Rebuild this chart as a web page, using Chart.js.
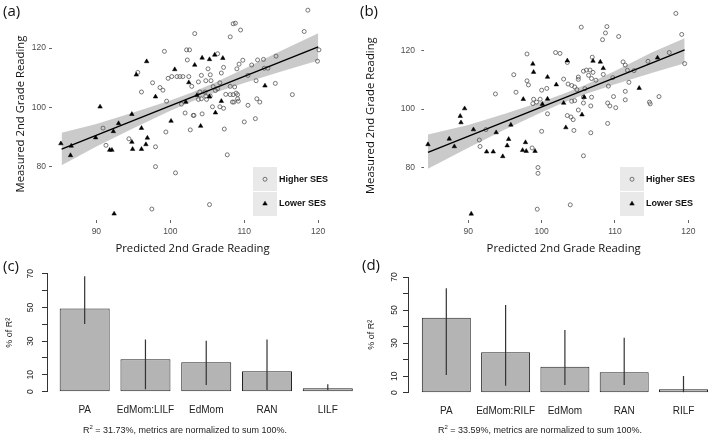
<!DOCTYPE html>
<html>
<head>
<meta charset="utf-8">
<script src="https://cdn.jsdelivr.net/npm/chart.js@4.4.1/dist/chart.umd.min.js"></script>
<style>
  body { margin: 0; background: #fff; width: 709px; height: 437px; position: relative; overflow: hidden; }
  canvas { position: absolute; }
  .tag { position: absolute; font-family: 'Open Sans', sans-serif; font-size: 15px; line-height: 15px; color: #111; z-index: 2; }
  .caption { position: absolute; width: 300px; text-align: center; font-family: 'Liberation Sans', Arial, sans-serif; font-size: 9px; line-height: 11px; color: #222; z-index: 2; }
  .caption sup { font-size: 6px; line-height: 0; }
</style>
</head>
<body>
<div class="tag" style="left:3px;top:3px">(a)</div>
<div class="tag" style="left:360px;top:3px">(b)</div>
<div class="tag" style="left:3px;top:258px">(c)</div>
<div class="tag" style="left:362px;top:257px">(d)</div>
<canvas id="chartA" width="340" height="260" style="left:0;top:0"></canvas>
<canvas id="chartB" width="354" height="260" style="left:355px;top:0"></canvas>
<canvas id="chartC" width="360" height="175" style="left:0;top:262px"></canvas>
<canvas id="chartD" width="354" height="175" style="left:355px;top:262px"></canvas>
<div class="caption" id="capC" style="left:35px;top:425px"></div>
<div class="caption" id="capD" style="left:390px;top:425px"></div>
<script>
// --- panel (a) ---
const aHigherX = [118.6,118.1,120.1,119.9,108.5,108.8,109.5,108.1,103.3,99.2,102.2,102.6,106.4,102.3,95.6,97.6,99.7,100.2,100.9,101.3,101.7,102.5,96.1,98.6,99,99.5,101.5,102.9,103.8,104.2,105.1,105.4,105.8,106.7,106.9,107.2,109,109.3,109.8,111,111.8,112.6,114.3,112.7,113.2,110.5,111.6,114.2,116.5,108.1,108.5,109.1,109.1,108.6,109.2,110.5,111.7,112.1,111.5,110,107.3,106.7,107.2,105.7,104.3,103.2,102,102.7,99.4,104,104.8,103.8,104.9,106.1,106.4,104.7,104.2,105.4,108.1,108.7,104.8,105.5,103.1,107.5,108.9,108.4,90.9,91.3,94.4,98,98,100.7,107.7,105.3,97.5];
const aHigherY = [132.8,125.6,119.4,115.6,128.2,128.4,126.1,123.8,124.9,118.9,119.4,119.4,118.1,116,111.8,108.3,109.8,110.4,110.4,110.4,110.4,110.4,105.2,106.7,105.8,102.1,101.1,107.1,108.6,110.8,113,111,107,108.3,111.6,113.5,113,114.6,115.9,114.3,116,116.2,117.3,113.2,113.2,110.8,109,108.1,104.3,104.3,104.3,104.3,102.9,101.8,102.1,100.7,102.9,101.8,96.2,95.1,92.7,100.2,99.7,100.2,97.8,97.3,98.1,92.4,91.7,105.2,103.8,102.7,102.7,105.7,106.3,105.2,102.9,103.8,107.1,106.9,109,109,97.3,104.4,104.8,101.8,93,87.2,89.4,86.7,80,77.9,84,67.2,65.7];
const aLowerX = [96.8,95.4,100.6,103.3,104.3,105.3,106,107.1,102.5,98,102.1,103.6,105.3,106.9,106.1,100.1,104.1,112.8,90.5,94.8,93,96.1,92.3,89.9,94.8,96.9,96.7,85.2,86.6,91.8,92.1,94.9,96.1,86.5,92.4];
const aLowerY = [115.5,111,112.8,114.3,116.7,116.2,117.7,116.6,108.4,103.6,101.8,104.1,103.6,102.1,98.2,95.4,93.7,107.3,100.2,97.7,94.6,93,91.9,89.8,88.3,89.7,87.5,87.8,87,85.6,85.6,85.9,85.9,83.8,64.1];
const aFitX = [85.3, 120];
const aFitY = [85.9, 120.4];
const aBandX = [85.3, 90, 95, 100, 103, 106, 110, 115, 120];
const aBandLow = [80.5, 86.8, 93.0, 98.9, 102.1, 104.9, 108.2, 112.1, 115.8];
const aBandHigh = [91.4, 94.4, 98.3, 102.3, 105.1, 108.3, 113.0, 119.1, 125.0];

// --- panel (b) ---
const bHigherX = [118.3,119.1,117.4,119.5,105.4,108.9,108.7,108.3,110.5,98,101.9,102.5,103.5,106.9,96.2,93.7,98,98.2,96.5,98.9,99.3,99.8,100.7,100,100.8,103,103.6,104.1,104.5,104.8,105,105,105.7,106.1,106.6,107,106.4,106.8,107.4,108.4,109.7,109.1,105.9,105.7,106.8,106.7,104.1,104.5,105.7,103.5,104,104.3,104.4,106.7,105,109,109.3,110.1,109,109.8,111.1,111.4,111.7,111.9,111.4,111.4,114.5,116,114.7,114.8,112.6,92.4,91.5,91.6,98.7,100,98.8,99.5,99.5,105.7,103.9,99.4];
const bHigherY = [132.8,125.6,119.4,115.6,128.1,128.3,126.1,123.8,124.9,118.9,119.4,119.1,116,117.8,111.8,105.2,109.7,108.3,105.8,103.4,102.4,103.4,107.1,106.5,98.4,110.3,108.6,108.1,107.6,106.7,111,110.2,113,113.4,113.4,112.6,111.6,110.5,109.9,111.9,110.8,107.9,107,104.1,104.1,101.1,102.7,102.9,102.1,97.8,97.3,96.4,92.7,91.9,99.7,102.1,101.1,100.5,95.1,104.3,116.2,115.1,113.3,109.2,106.1,103.2,116.4,104.3,102.4,101.8,113.2,93,89.4,87.2,86.7,92.4,101.9,80,78,84,67.2,65.7];
const bLowerX = [98.8,98.9,100.8,102,103.5,107,108,108.4,115.8,97.5,100.1,100.8,103,105.8,105.5,103.3,113.3,89.5,88.9,89,90.7,93.8,95.8,87.4,88.1,84.5,92.5,93.4,95.5,95.3,97.8,97.9,99.1,97.4,94.7,90.4];
const bLowerY = [115.5,112.7,111,108.4,116.6,116.5,116.2,114,117.6,103.4,101.7,103.5,102.1,104.1,98.1,93.7,107.2,100.2,97.6,95.4,93,92,94.6,89.8,87.2,87.9,85.4,85.4,89.7,87.5,88.6,85.6,85.6,85.9,83.8,64.1];
const bFitX = [84.5, 119.5];
const bFitY = [85.2, 120.3];
const bBandX = [84.5, 90, 95, 100, 103, 106, 110, 115, 119.5];
const bBandLow = [79.6, 86.8, 93.0, 98.9, 102.3, 105.2, 108.5, 112.4, 115.7];
const bBandHigh = [91.3, 94.6, 98.4, 102.5, 105.3, 108.4, 113.1, 119.4, 124.3];

const scatterXTicks = [90, 100, 110, 120];
const scatterYTicks = [80, 100, 120];
const legendLabels = ['Higher SES', 'Lower SES'];

// --- panels (c), (d) ---
const cLabels = ['PA', 'EdMom:LILF', 'EdMom', 'RAN', 'LILF'];
const cValues = [49.3, 19.3, 17.4, 12.2, 2.0];
const cLow = [40.1, 1.4, 4.0, 1.0, 1.0];
const cHigh = [68.5, 31.0, 30.2, 31.0, 4.4];
const cRsq = '31.73';
const dLabels = ['PA', 'EdMom:RILF', 'EdMom', 'RAN', 'RILF'];
const dValues = [45.4, 24.4, 15.7, 12.3, 2.1];
const dLow = [10.7, 4.2, 4.7, 4.7, 0];
const dHigh = [63.2, 53.0, 37.9, 33.3, 10.1];
const dRsq = '33.59';
const barTicks = [0, 10, 20, 30, 40, 50, 60, 70];
const barTickLabels = [0, 10, 30, 50, 70];

const pts = (xs, ys) => xs.map((x, i) => ({ x: x, y: ys[i] }));

// grey legend box drawn inside the plot, bottom right
const sesLegend = {
    id: 'sesLegend',
    afterDraw(chart, args, opts) {
        const { ctx, chartArea } = chart;
        const x0 = chartArea.right - opts.offsetRight;
        const y0 = chartArea.bottom - 53;
        const w = 24, h = 49;
        ctx.save();
        ctx.fillStyle = '#e9e9e9';
        ctx.fillRect(x0, y0, w, h);
        ctx.strokeStyle = '#fff';
        ctx.lineWidth = 1;
        ctx.beginPath();
        ctx.moveTo(x0, y0 + h / 2);
        ctx.lineTo(x0 + w, y0 + h / 2);
        ctx.stroke();
        legendLabels.forEach((lab, i) => {
            const ds = chart.data.datasets.find(d => d.label === lab);
            const cy = y0 + h / 4 + i * h / 2;
            ctx.fillStyle = ds.backgroundColor;
            ctx.strokeStyle = ds.borderColor;
            ctx.lineWidth = ds.borderWidth;
            Chart.helpers.drawPoint(ctx, { pointStyle: ds.pointStyle, radius: ds.pointRadius, borderWidth: ds.borderWidth, rotation: 0 }, x0 + w / 2, cy);
            ctx.fillStyle = '#111';
            ctx.font = 'bold 9px "Liberation Sans", Arial, sans-serif';
            ctx.textBaseline = 'middle';
            ctx.textAlign = 'left';
            ctx.fillText(lab, x0 + w + 2, cy);
        });
        ctx.restore();
    }
};

function makeScatter(id, d, lay) {
    const tickFont = { family: 'Liberation Sans', size: 8.5 };
    const titleFont = { family: 'Open Sans', size: 11.3 };
    return new Chart(document.getElementById(id), {
        type: 'scatter',
        data: {
            datasets: [
                { label: 'fit', data: pts(d.fitX, d.fitY), showLine: true, borderColor: '#000', borderWidth: 1.4, pointRadius: 0, order: 0 },
                { label: 'Lower SES', data: pts(d.lowX, d.lowY), pointStyle: 'triangle', pointRadius: 2.6, backgroundColor: '#000', borderColor: '#000', borderWidth: 0.5, order: 1, clip: false },
                { label: 'Higher SES', data: pts(d.highX, d.highY), pointStyle: 'circle', pointRadius: 2, backgroundColor: 'rgba(0,0,0,0)', borderColor: '#555', borderWidth: 0.8, order: 2, clip: false },
                { label: 'band', data: pts(d.bandX, d.bandHigh), showLine: true, borderColor: 'rgba(0,0,0,0)', pointRadius: 0, backgroundColor: 'rgba(150,150,150,0.5)', fill: '+1', order: 3 },
                { label: 'band low', data: pts(d.bandX, d.bandLow), showLine: true, borderColor: 'rgba(0,0,0,0)', pointRadius: 0, fill: false, order: 4 }
            ]
        },
        options: {
            responsive: false,
            animation: false,
            devicePixelRatio: 1,
            layout: { padding: { left: lay.padLeft, right: lay.padRight, top: 0, bottom: 0 } },
            scales: {
                x: {
                    type: 'linear', min: 84, max: 122,
                    afterBuildTicks: s => { s.ticks = scatterXTicks.map(v => ({ value: v })); },
                    afterFit: s => { s.height = 40; },
                    grid: { drawOnChartArea: false, tickLength: 3, color: '#666' },
                    border: { display: false },
                    ticks: { padding: 4, color: '#4d4d4d', font: tickFont },
                    title: { display: true, text: 'Predicted 2nd Grade Reading', color: '#111', font: titleFont, padding: { top: 0, bottom: 4 } }
                },
                y: {
                    type: 'linear', min: 62, max: 133.5,
                    afterBuildTicks: s => { s.ticks = scatterYTicks.map(v => ({ value: v })); },
                    afterFit: s => { s.width = lay.yWidth; },
                    grid: { drawOnChartArea: false, tickLength: 3, color: '#666' },
                    border: { display: false },
                    ticks: { padding: lay.yPad, color: '#4d4d4d', font: tickFont },
                    title: { display: true, text: 'Measured 2nd Grade Reading', color: '#111', font: titleFont, padding: { top: 4, bottom: 0 } }
                }
            },
            plugins: {
                legend: { display: false },
                tooltip: { enabled: false },
                sesLegend: { offsetRight: lay.legendRight }
            }
        },
        plugins: [sesLegend]
    });
}

function makeBars(id, cats, vals, lo, hi, lay) {
    const font = { family: 'Liberation Sans', size: 10 };
    return new Chart(document.getElementById(id), {
        type: 'bar',
        data: {
            datasets: [
                { label: 'interval', data: cats.map((c, i) => ({ x: i, y: [lo[i], hi[i]] })), backgroundColor: '#333', grouped: false, maxBarThickness: 1.2, order: 0 },
                { label: '% of R²', data: cats.map((c, i) => ({ x: i, y: vals[i] })), backgroundColor: '#b4b4b4', borderColor: '#222', borderWidth: 1, borderSkipped: false, grouped: false, barPercentage: lay.barPct, categoryPercentage: 1, order: 1 }
            ]
        },
        options: {
            responsive: false,
            animation: false,
            devicePixelRatio: 1,
            layout: { padding: { left: lay.padLeft, right: 0, top: lay.padTop, bottom: 0 } },
            scales: {
                x: {
                    type: 'linear', min: lay.xMin, max: lay.xMax, offset: false,
                    afterBuildTicks: s => { s.ticks = cats.map((c, i) => ({ value: i })); },
                    afterFit: s => { s.height = lay.xHeight; s.paddingLeft = 0; s.paddingRight = 0; },
                    grid: { display: false, drawTicks: false },
                    border: { display: false },
                    ticks: { padding: 13, color: '#222', font: font, minRotation: 0, maxRotation: 0, autoSkip: false, callback: v => cats[v] }
                },
                y: {
                    type: 'linear', min: 0, max: 70,
                    afterBuildTicks: s => { s.ticks = barTicks.map(v => ({ value: v })); },
                    afterFit: s => { s.width = lay.yWidth; s.paddingTop = 0; s.paddingBottom = 0; },
                    grid: { drawOnChartArea: false, tickLength: 5, color: '#333' },
                    border: { display: true, color: '#333' },
                    ticks: { padding: lay.yPad, color: '#222', font: { family: 'Liberation Sans', size: 8.5 }, minRotation: 90, maxRotation: 90, crossAlign: 'center', callback: v => barTickLabels.includes(v) ? String(v) : '' },
                    title: { display: true, text: '% of R²', color: '#222', font: { family: 'Liberation Sans', size: 9 }, padding: { top: 4.6, bottom: 0 } }
                }
            },
            plugins: { legend: { display: false }, tooltip: { enabled: false } }
        }
    });
}

makeScatter('chartA',
    { highX: aHigherX, highY: aHigherY, lowX: aLowerX, lowY: aLowerY, fitX: aFitX, fitY: aFitY, bandX: aBandX, bandLow: aBandLow, bandHigh: aBandHigh },
    { padLeft: 10, padRight: 7, yWidth: 42, yPad: 3, legendRight: 80 });
makeScatter('chartB',
    { highX: bHigherX, highY: bHigherY, lowX: bLowerX, lowY: bLowerY, fitX: bFitX, fitY: bFitY, bandX: bBandX, bandLow: bBandLow, bandHigh: bBandHigh },
    { padLeft: 5, padRight: 6, yWidth: 64.3, yPad: 6.3, legendRight: 83 });
makeBars('chartC', cLabels, cValues, cLow, cHigh,
    { padLeft: 0, padTop: 11.7, yWidth: 47, yPad: 6.8, xHeight: 45.3, xMin: -0.62, xMax: 4.53, barPct: 0.823 });
makeBars('chartD', dLabels, dValues, dLow, dHigh,
    { padLeft: 7, padTop: 15, yWidth: 46, yPad: 4, xHeight: 44.3, xMin: -0.646, xMax: 4.43, barPct: 0.826 });

document.getElementById('capC').innerHTML = 'R<sup>2</sup> = ' + cRsq + '%, metrics are normalized to sum 100%.';
document.getElementById('capD').innerHTML = 'R<sup>2</sup> = ' + dRsq + '%, metrics are normalized to sum 100%.';
</script>
</body>
</html>
